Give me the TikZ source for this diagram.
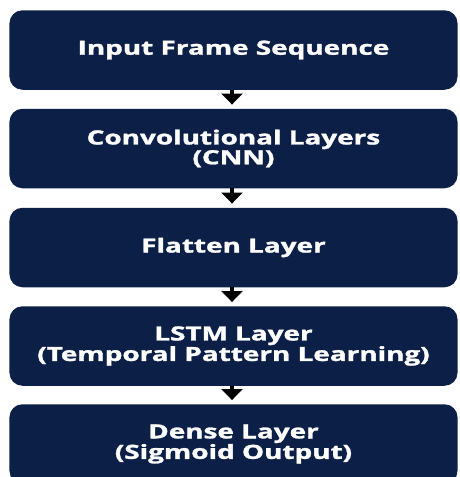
\documentclass[tikz,border=0pt]{standalone}
\usepackage{fontspec}
\setmainfont{Open Sans}
\newfontfamily\boxfont[BoldFeatures={FakeBold=1.3}]{Open Sans}
\usetikzlibrary{arrows.meta}
\definecolor{navy}{RGB}{12,31,70}
\tikzset{
  layerbox/.style={
    fill=navy, draw=none, rounded corners=13pt,
    xscale=1.43, transform shape,
    minimum width=313.3pt, minimum height=79.5pt,
    inner sep=0pt, align=center, text=white,
    font=\boxfont\fontsize{19.5}{17.8}\selectfont\bfseries
  },
  flowarrow/.style={
    line width=4pt, draw=black,
    -{Triangle[width=21pt,length=11pt]},
    shorten >=4pt
  }
}
\begin{document}
\begin{tikzpicture}[x=1pt,y=-1pt]
  \useasboundingbox (0,0) rectangle (459,477);
  \begin{scope}
    \clip (0,0) rectangle (459,477);
    \node[layerbox] (input) at (233.5,50)  {Input Frame Sequence};
    \node[layerbox] (cnn)   at (233.5,148.5) {Convolutional Layers\\(CNN)};
    \node[layerbox] (flat)  at (233.5,247.5) {Flatten Layer};
    \node[layerbox] (lstm)  at (233.5,346) {LSTM Layer\\(Temporal Pattern Learning)};
    \node[layerbox] (dense) at (233.5,444) {Dense Layer\\(Sigmoid Output)};
  \end{scope}
  \draw[flowarrow] ([xshift=-1.5pt]input.south) -- ([xshift=-1.5pt]cnn.north);
  \draw[flowarrow] ([xshift=-1.5pt]cnn.south)   -- ([xshift=-1.5pt]flat.north);
  \draw[flowarrow] ([xshift=-1.5pt]flat.south)  -- ([xshift=-1.5pt]lstm.north);
  \draw[flowarrow] ([xshift=-1.5pt]lstm.south)  -- ([xshift=-1.5pt]dense.north);
\end{tikzpicture}
\end{document}
